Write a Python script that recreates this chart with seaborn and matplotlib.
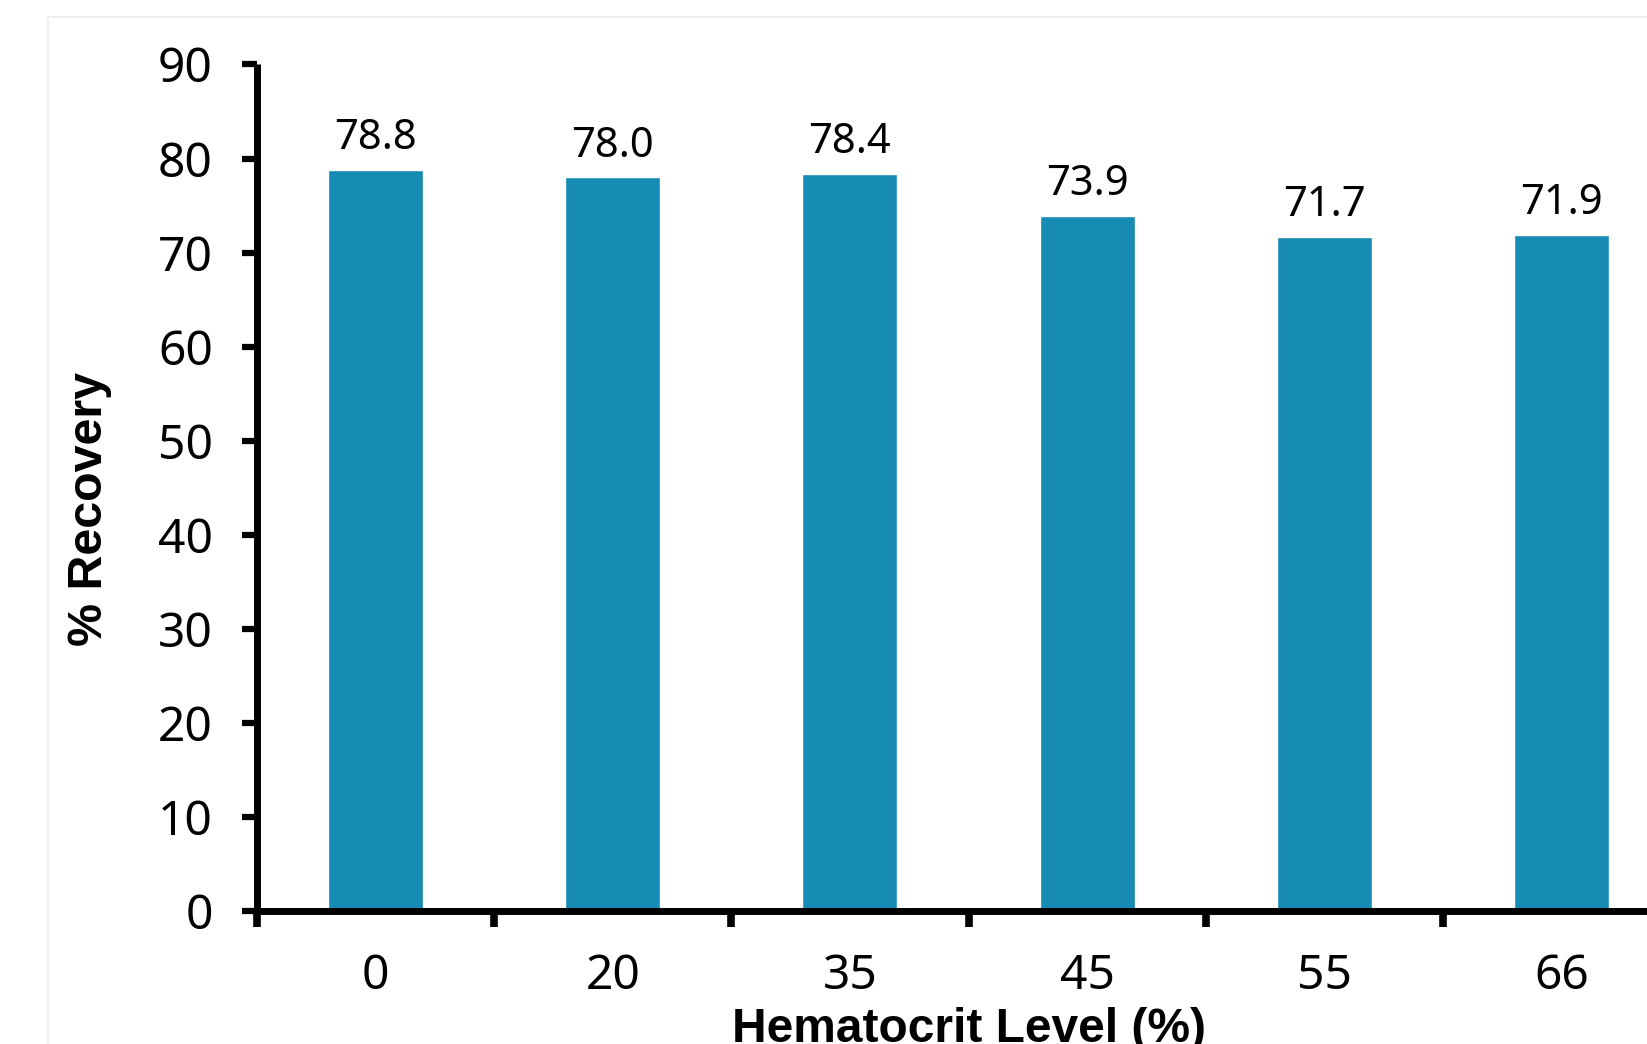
import matplotlib
matplotlib.use("Agg")
import matplotlib.pyplot as plt
from matplotlib.patches import Rectangle
from matplotlib.ticker import FixedLocator
import seaborn as sns
import pandas as pd

# Recovery at each hematocrit level
hematocrit_levels = ["0", "20", "35", "45", "55", "66"]
recovery_pct = [78.8, 78.0, 78.4, 73.9, 71.7, 71.9]
y_ticks = [0, 10, 20, 30, 40, 50, 60, 70, 80, 90]

BAR_COLOR = "#168cb4"
NUM_FONT = "Noto Sans"
LABEL_FONT = "Liberation Sans"

sns.set_theme(style="white")
plt.rcParams["font.family"] = [NUM_FONT, "DejaVu Sans"]

W, H = 1647, 1044
fig = plt.figure(figsize=(W / 100, H / 100), dpi=100)
fig.patch.set_facecolor("white")

# faint outer chart frame
fig.add_artist(Rectangle((48 / W, -0.1), 1.2, (1 - 17 / H) + 0.1,
                         transform=fig.transFigure, fill=False,
                         edgecolor="#eeeeee", linewidth=1.5))

left, right = 257 / W, 1680 / W
bottom, top = 1 - 911 / H, 1 - 64.5 / H
ax = fig.add_axes([left, bottom, right - left, top - bottom])

df = pd.DataFrame({"level": hematocrit_levels, "recovery": recovery_pct})
sns.barplot(data=df, x="level", y="recovery", color=BAR_COLOR,
            saturation=1, width=0.4, ax=ax)

ax.set_xlim(-0.5, len(hematocrit_levels) - 0.5)
ax.set_ylim(0, 90)
ax.set_yticks(y_ticks)
ax.set_xlabel("")
ax.set_ylabel("")

for s in ["top", "right"]:
    ax.spines[s].set_visible(False)
for s in ["left", "bottom"]:
    ax.spines[s].set_linewidth(5)
    ax.spines[s].set_color("black")
    ax.spines[s].set_capstyle("butt")

# category labels centred, tick marks at category boundaries
ax.xaxis.set_minor_locator(FixedLocator([i - 0.5 for i in range(len(hematocrit_levels) + 1)]))
ax.tick_params(axis="x", which="major", length=0, pad=30,
               labelsize=34.5, labelcolor="black")
ax.tick_params(axis="x", which="minor", direction="out", length=11.5,
               width=5.5, color="black", bottom=True)
ax.tick_params(axis="y", which="major", direction="out", length=10.8,
               width=4.5, color="black", pad=21, labelsize=34.5,
               labelcolor="black", left=True)
for lab in ax.get_xticklabels() + ax.get_yticklabels():
    lab.set_fontfamily(NUM_FONT)
    lab.set_fontweight(300)

# value labels above bars
for i, v in enumerate(recovery_pct):
    ax.annotate(f"{v:.1f}", xy=(i, v), xytext=(0, 15), textcoords="offset points",
                ha="center", va="baseline", fontsize=30, color="black",
                fontfamily=NUM_FONT, fontweight=300)

fig.text(90 / W, 1 - 509 / H, "% Recovery", rotation=90, ha="center", va="center",
         fontsize=34.8, fontweight="bold", fontfamily=LABEL_FONT, color="black")
fig.text(969 / W, 1 - 1042 / H, "Hematocrit Level (%)", ha="center", va="baseline",
         fontsize=34.5, fontweight="bold", fontfamily=LABEL_FONT, color="black")

fig.savefig("out.png", dpi=100, facecolor="white")
